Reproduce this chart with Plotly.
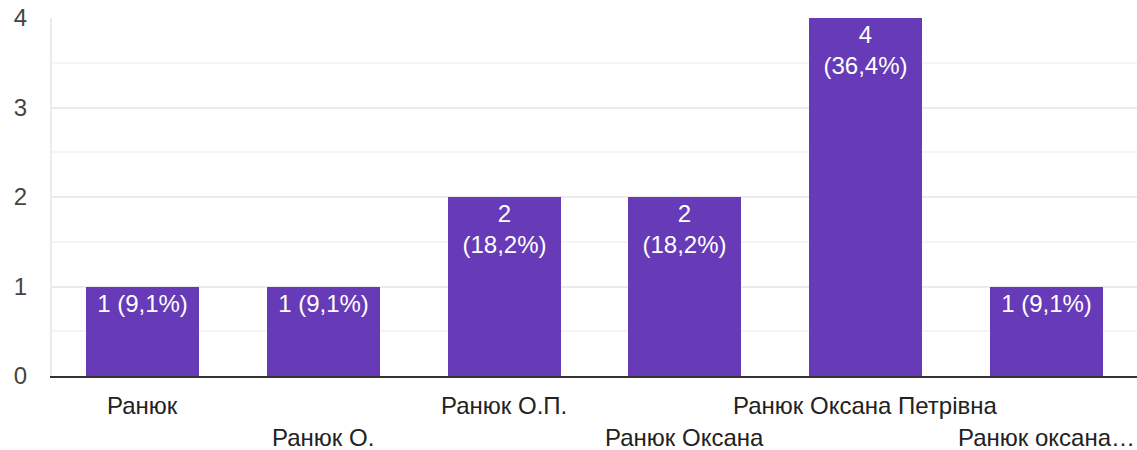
import plotly.graph_objects as go

categories = ["Ранюк", "Ранюк О.", "Ранюк О.П.", "Ранюк Оксана", "Ранюк Оксана Петрівна", "Ранюк оксана…"]
counts = [1, 1, 2, 2, 4, 1]
bar_labels = ["1 (9,1%)", "1 (9,1%)", "2<br>(18,2%)", "2<br>(18,2%)", "4<br>(36,4%)", "1 (9,1%)"]
y_ticks = [0, 1, 2, 3, 4]

FONT = "Liberation Sans, Arial, sans-serif"
PURPLE = "#673ab7"

x_idx = list(range(len(categories)))

fig = go.Figure()
fig.add_trace(go.Bar(
    x=x_idx, y=counts, width=0.625,
    marker=dict(color=PURPLE, line=dict(width=0)),
    text=bar_labels, textposition="inside", insidetextanchor="end",
    textangle=0,
    textfont=dict(family=FONT, size=24, color="white"),
    cliponaxis=False, hoverinfo="skip",
))

for i, c in enumerate(categories):
    fig.add_annotation(
        x=i, y=0, xref="x", yref="paper", text=c, showarrow=False,
        xanchor="center", yanchor="middle",
        yshift=-29 if i % 2 == 0 else -61,
        font=dict(family=FONT, size=24, color="#222222"),
    )

fig.update_layout(
    width=1137, height=450,
    margin=dict(l=52, r=0, t=18, b=74),
    paper_bgcolor="white", plot_bgcolor="white",
    showlegend=False, bargap=0,
    uniformtext=dict(minsize=24, mode="show"),
    xaxis=dict(range=[-0.5, len(categories) - 0.5], showticklabels=False,
               showgrid=False, zeroline=False, showline=True,
               linecolor="#333333", linewidth=2, ticks="", fixedrange=True),
    yaxis=dict(range=[0, 4], tickvals=y_ticks, ticktext=[str(v) for v in y_ticks],
               showgrid=True, gridcolor="#ebebeb", gridwidth=2,
               minor=dict(dtick=0.5, showgrid=True, gridcolor="#f5f5f5", gridwidth=2),
               zeroline=False, showline=True, linecolor="#ebebeb", linewidth=2,
               ticks="", ticklabelstandoff=18, ticklabeloverflow="allow",
               tickfont=dict(family=FONT, size=24, color="#444444"), fixedrange=True),
)

fig.write_html("out.html", config={"displayModeBar": False},
               post_script="document.body.style.margin='0';document.body.style.overflow='hidden';")
